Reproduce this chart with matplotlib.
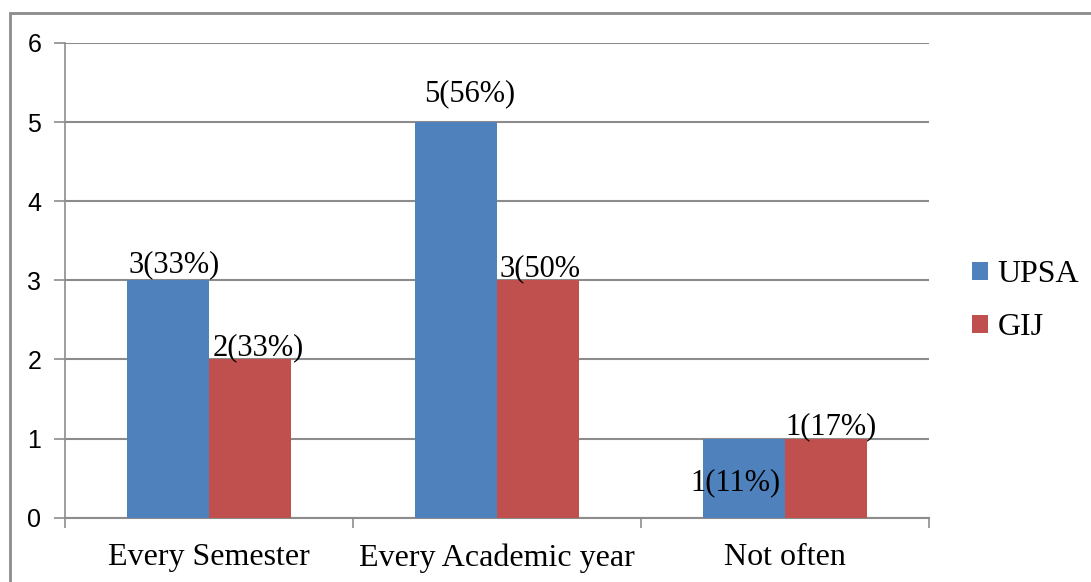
import matplotlib
matplotlib.use("Agg")
import matplotlib.pyplot as plt
from matplotlib.patches import Rectangle
import numpy as np

categories = ["Every Semester", "Every Academic year", "Not often"]
upsa = [3, 5, 1]
gij = [2, 3, 1]
upsa_labels = ["3(33%)", "5(56%)", "1(11%)"]
gij_labels = ["2(33%)", "3(50%", "1(17%)"]
yticks = [0, 1, 2, 3, 4, 5, 6]

BLUE = "#4F81BD"
RED = "#C0504D"
GRAY = "#8C8C8C"

fig = plt.figure(figsize=(10.91, 5.82), dpi=100)
fig.patch.set_facecolor("white")
# outer chart border
fig.patches.append(Rectangle((10 / 1091, -0.05), 1.2, 1 - 13 / 582 + 0.05,
                             transform=fig.transFigure, fill=False,
                             edgecolor=GRAY, linewidth=2.0))

ax = fig.add_axes([65 / 1091, 1 - 517.7 / 582, (929 - 65) / 1091, (517.7 - 43) / 582])
x = np.arange(len(categories))
w = 0.285
b1 = ax.bar(x - w / 2, upsa, w, color=BLUE, label="UPSA", zorder=3)
b2 = ax.bar(x + w / 2, gij, w, color=RED, label="GIJ", zorder=3)

ax.set_xlim(-0.5, 2.5)
ax.set_ylim(0, 6)
ax.set_yticks(yticks)
ax.set_yticklabels([str(v) for v in yticks], fontfamily="Liberation Sans", fontsize=18)
ax.yaxis.grid(True, color=GRAY, linewidth=1.5, zorder=0)
ax.set_axisbelow(True)
ax.tick_params(axis="y", length=8, width=1.2, color=GRAY, pad=9)

ax.set_xticks([-0.5, 0.5, 1.5, 2.5])
ax.set_xticklabels([])
ax.tick_params(axis="x", length=7, width=1.2, color=GRAY, direction="out")
for xi, c in zip(x, categories):
    ax.text(xi, -0.32, c, ha="center", va="top", fontfamily="Liberation Serif",
            fontsize=23, transform=ax.transData)

for s in ["top", "right"]:
    ax.spines[s].set_visible(False)
ax.spines["left"].set_color(GRAY)
ax.spines["bottom"].set_color(GRAY)
ax.spines["left"].set_linewidth(1.2)
ax.spines["bottom"].set_linewidth(1.5)

tfont = dict(fontfamily="Liberation Serif", fontsize=22)
# UPSA labels
ax.text(x[0] - 0.1215, upsa[0] + 0.02, upsa_labels[0], ha="center", va="bottom", **tfont)
ax.text(x[1] - 0.094, upsa[1] + 0.17, upsa_labels[1], ha="center", va="bottom", **tfont)
ax.text(x[2] - 0.017, 0.44, upsa_labels[2], ha="right", va="center", **tfont)
# GIJ labels
ax.text(x[0] + 0.17, gij[0] - 0.03, gij_labels[0], ha="center", va="bottom", **tfont)
ax.text(x[1] + 0.149, gij[1] - 0.03, gij_labels[1], ha="center", va="bottom", **tfont)
ax.text(x[2] + 0.16, gij[2] - 0.03, gij_labels[2], ha="center", va="bottom", **tfont)

leg = fig.legend(handles=[b1, b2], labels=["UPSA", "GIJ"], loc="center left",
                 bbox_to_anchor=(972 / 1091, 1 - 301 / 582), frameon=False,
                 prop={"family": "Liberation Serif", "size": 23},
                 handlelength=0.5, handleheight=0.5, handletextpad=0.3,
                 labelspacing=0.75, borderpad=0, borderaxespad=0)

fig.savefig("out.png", dpi=100, facecolor="white")
